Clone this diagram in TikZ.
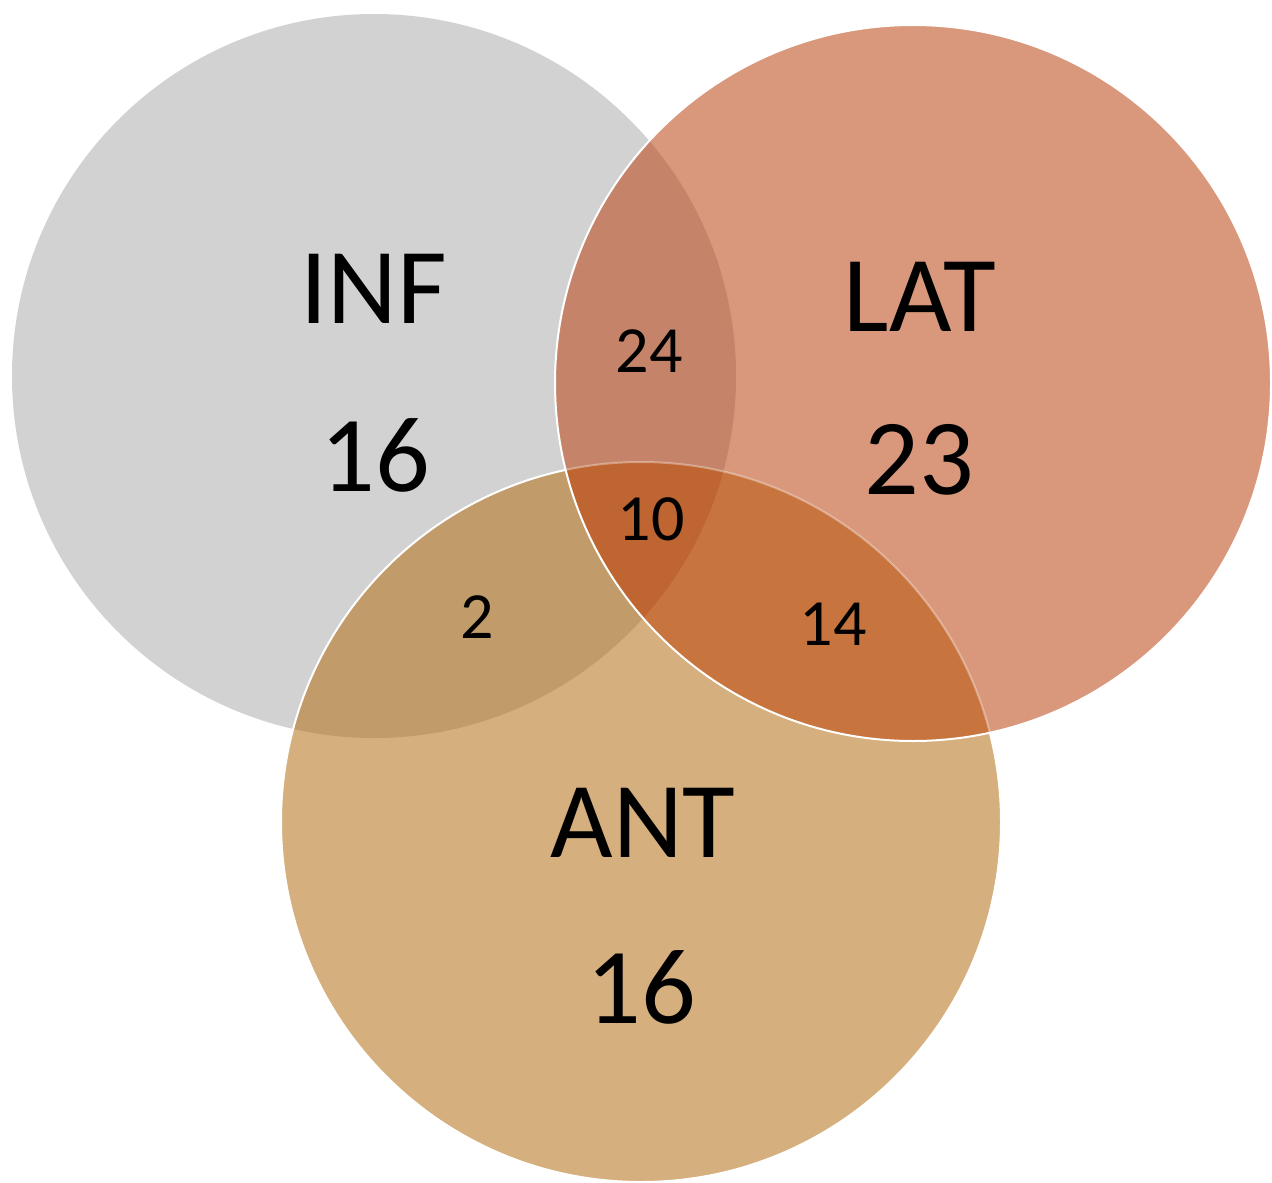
\documentclass[tikz,border=0pt]{standalone}
\usepackage{fontspec}
\setmainfont{Carlito}
\definecolor{cinf}{HTML}{D2D2D2}
\definecolor{clat}{HTML}{D9987C}
\definecolor{cant}{HTML}{D5B07E}
\definecolor{cil}{HTML}{C5846A}
\definecolor{cia}{HTML}{C19C6A}
\definecolor{cla}{HTML}{C8743F}
\definecolor{cila}{HTML}{BE6532}
\begin{document}
\begin{tikzpicture}[x=0.5pt,y=-0.5pt,
  big/.style={font=\fontsize{54}{60}\selectfont, inner sep=0pt, text=black},
  small/.style={font=\fontsize{33}{38}\selectfont, inner sep=0pt, text=black},
  rim/.style={draw=white, line width=1pt}]
\useasboundingbox (0,0) rectangle (1272,1182);
\coordinate (ci) at (374,376);
\coordinate (cl) at (913,383);
\coordinate (ca) at (641,822);
% base fills
\fill[cinf] (ci) circle[radius=362];
\fill[cant] (ca) circle[radius=360];
\fill[clat] (cl) circle[radius=358];
% overlaps
\begin{scope}
  \clip (ci) circle[radius=362];
  \fill[cil] (cl) circle[radius=358];
  \fill[cia] (ca) circle[radius=360];
\end{scope}
\begin{scope}
  \clip (cl) circle[radius=358];
  \fill[cla] (ca) circle[radius=360];
  \clip (ci) circle[radius=362];
  \fill[cila] (ca) circle[radius=360];
\end{scope}
% rims
\begin{scope}
  \clip (cl) circle[radius=358];
  \draw[rim, draw opacity=0.35] (ca) circle[radius=360];
\end{scope}
\begin{scope}[even odd rule]
  \clip (-10,-10) rectangle (1290,1200) (cl) circle[radius=358];
  \draw[rim] (ca) circle[radius=360];
\end{scope}
\draw[rim] (cl) circle[radius=358];
% labels
\node[big] (infname) at (374,289) {INF};
\node[big] (infnum) at (375,455) {16};
\node[big] (latname) at (920,297) {LAT};
\node[big] (latnum) at (919,460) {23};
\node[big] (antname) at (643,823) {ANT};
\node[big] (antnum) at (641,987) {16};
\node[small] (il) at (649,351) {24};
\node[small] (ila) at (651,519) {10};
\node[small] (ia) at (477,617) {2};
\node[small] (la) at (833,624) {14};
\end{tikzpicture}
\end{document}
